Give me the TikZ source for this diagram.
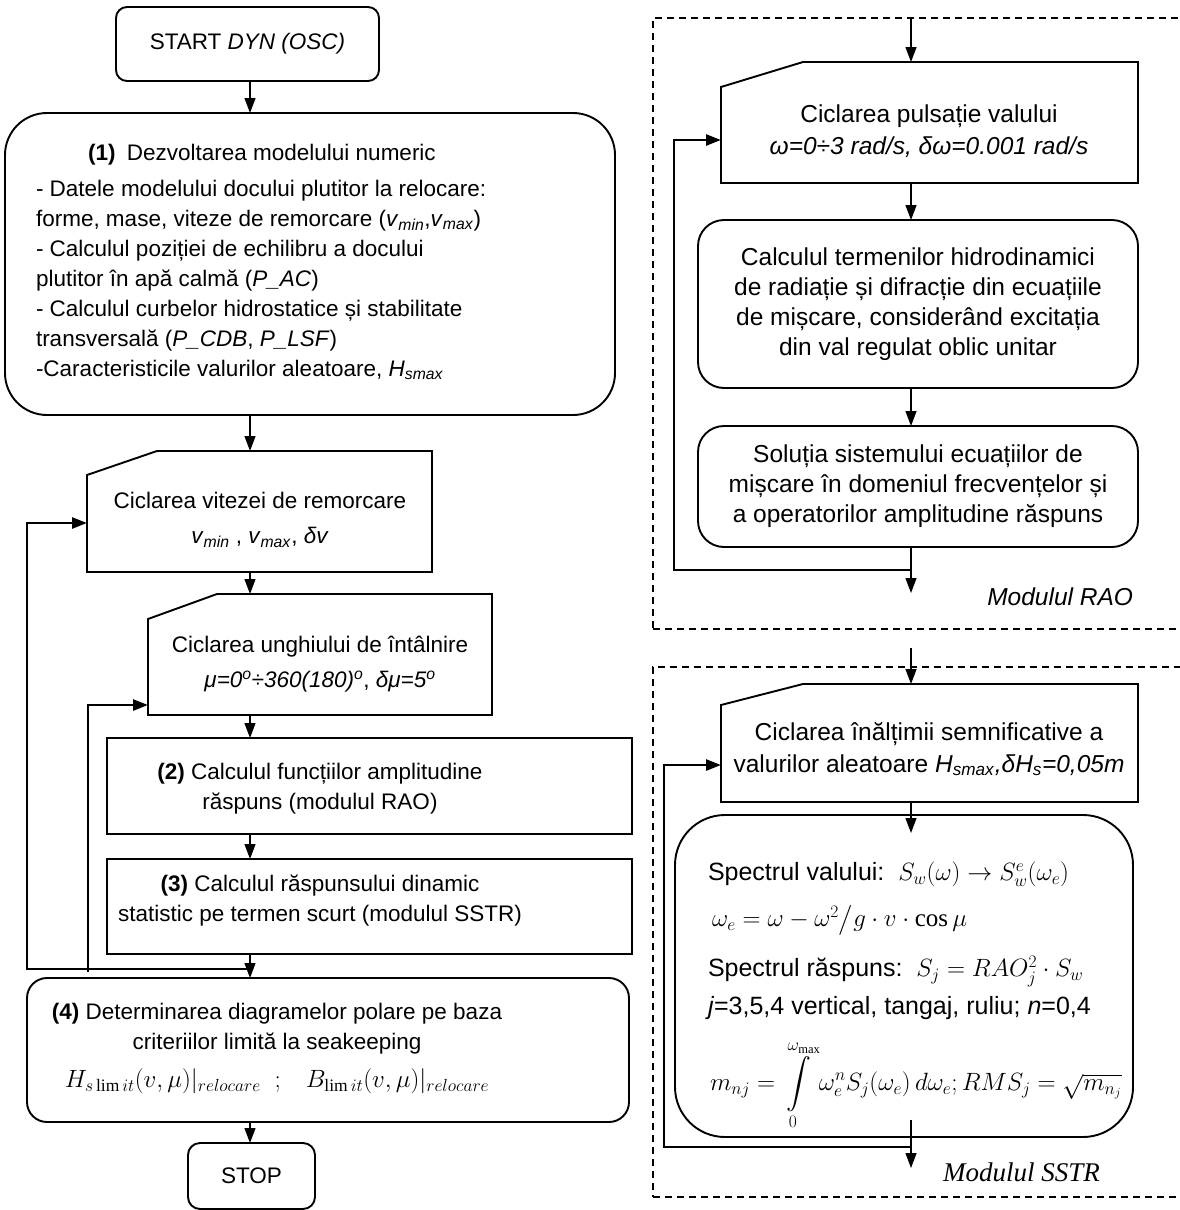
\RequirePackage{fix-cm}
\documentclass[tikz,border=0pt]{standalone}
\usepackage{amsmath}
\usepackage{fontspec}
\setmainfont{Liberation Sans}
\setmathrm{Liberation Serif}
\newfontfamily\serifit{Liberation Serif}
\usetikzlibrary{arrows.meta,calc}
\begin{document}
\begin{tikzpicture}[x=1pt,y=-1pt,
  every node/.style={inner sep=0pt,outer sep=0pt},
  fl/.style={font=\fontsize{22.5}{30}\selectfont,align=center},
  fr/.style={font=\fontsize{24.5}{30}\selectfont,align=center},
  fs/.style={font=\fontsize{25}{30}\selectfont,align=left,anchor=north west},
  frame/.style={draw,line width=1.9pt,anchor=north west},
  cyc/.style={anchor=north west},
  cycline/.style={draw,line width=1.9pt,line join=miter},
  dframe/.style={draw,line width=1.5pt,dash pattern=on 7pt off 5pt,anchor=north west},
  arr/.style={line width=1.3pt,-{Triangle[length=15pt,width=11pt]}},
  back/.style={line width=2.6pt,-{Triangle[length=15pt,width=11pt]}},
]
\useasboundingbox (0,0) rectangle (1180,1210);
\fill[white] (0,0) rectangle (1180,1210);

% ---------------- left column ----------------
\node[frame,rounded corners=11pt,minimum width=263pt,minimum height=74pt,fl] (start) at (116,7) {START \textit{DYN (OSC)}};

\node[frame,rounded corners=42pt,minimum width=610pt,minimum height=302pt] (b1) at (5,113) {};
\node[fl] (b1h) at (262,155) {\textbf{(1)}\enspace Dezvoltarea modelului numeric};
\node[fl,align=left,anchor=west] (b1t) at (36,280) {- Datele modelului docului plutitor la relocare:\\
forme, mase, viteze de remorcare (\textit{v}\textsubscript{\textit{min}},\textit{v}\textsubscript{\textit{max}})\\
- Calculul poziției de echilibru a docului\\
plutitor în apă calmă (\textit{P\_AC})\\
- Calculul curbelor hidrostatice și stabilitate\\
transversală (\textit{P\_CDB}, \textit{P\_LSF})\\
-Caracteristicile valurilor aleatoare, \textit{H}\textsubscript{\textit{smax}}};

\node[cyc,minimum width=345pt,minimum height=121pt] (L1) at (87,451) {};
\draw[cycline] (L1.south west) -- ($(L1.north west)+(0,24)$) -- ($(L1.north west)+(70,0)$) -- (L1.north east) -- (L1.south east) -- cycle;
\node[fl] (L1t) at (260,520) {Ciclarea vitezei de remorcare\\[5pt] \textit{v}\textsubscript{\textit{min}} , \textit{v}\textsubscript{\textit{max}}, \textit{δv}};

\node[cyc,minimum width=344pt,minimum height=121pt] (L2) at (148,594) {};
\draw[cycline] (L2.south west) -- ($(L2.north west)+(0,25)$) -- ($(L2.north west)+(69,0)$) -- (L2.north east) -- (L2.south east) -- cycle;
\node[fl] (L2t) at (320,664) {Ciclarea unghiului de întâlnire\\[5pt] \textit{μ=0\textsuperscript{o}÷360(180)\textsuperscript{o}}, \textit{δμ=5\textsuperscript{o}}};

\node[frame,minimum width=525pt,minimum height=96pt] (b2) at (107,738) {};
\node[fl] (b2t) at (320,789) {\textbf{(2)} Calculul funcțiilor amplitudine\\răspuns (modulul RAO)};

\node[frame,minimum width=525pt,minimum height=95pt] (b3) at (107,859) {};
\node[fl] (b3t) at (320,901) {\textbf{(3)} Calculul răspunsului dinamic\\statistic pe termen scurt (modulul SSTR)};

\node[frame,rounded corners=20pt,minimum width=602pt,minimum height=144pt] (b4) at (27,978) {};
\node[fl,anchor=north] (b4t) at (277,1003) {\textbf{(4)} Determinarea diagramelor polare pe baza\\criteriilor limită la seakeeping\\[8pt]
{\fontsize{25}{30}\selectfont$H_{s\,\mathrm{lim}\,it}(v,\mu)|_{relocare}\;\;;\;\;\;B_{\mathrm{lim}\,it}(v,\mu)|_{relocare}$}};

\node[frame,rounded corners=12pt,minimum width=127pt,minimum height=66pt,fl] (stop) at (188,1143) {STOP};

\coordinate (cl) at (250,0);
\draw[arr] (cl|-start.south) -- (cl|-b1.north);
\draw[arr] (cl|-b1.south) -- (cl|-L1.north);
\draw[arr] (cl|-L1.south) -- (cl|-L2.north);
\draw[arr] (cl|-L2.south) -- (cl|-b2.north);
\draw[arr] (cl|-b2.south) -- (cl|-b3.north);
\draw[arr] (cl|-b3.south) -- (cl|-b4.north);
\draw[arr] (cl|-b4.south) -- (cl|-stop.north);

\coordinate (j1) at (250,969);
\coordinate (c1) at (27,969);
\coordinate (c2) at (27,523);
\draw[back] (j1) -- (c1) -- (c2) -- (c2 -| L1.west);
\coordinate (d1) at (88,972);
\coordinate (d2) at (88,705);
\draw[back] (d1) -- (d2) -- (d2 -| L2.west);

% ---------------- RAO module ----------------
\node[dframe,minimum width=545pt,minimum height=611pt] (rao) at (653,18) {};
\coordinate (cr) at (911,0);

\node[cyc,minimum width=417pt,minimum height=121pt] (p1) at (721,62) {};
\draw[cycline] (p1.south west) -- ($(p1.north west)+(0,25)$) -- ($(p1.north west)+(82,0)$) -- (p1.north east) -- (p1.south east) -- cycle;
\node[fr] (p1t) at (929,131) {Ciclarea pulsație valului\\[2pt] \textit{ω=0÷3 rad/s, δω=0.001 rad/s}};

\node[frame,rounded corners=26pt,minimum width=440pt,minimum height=168pt,fr] (c1box) at (698,220) {Calculul termenilor hidrodinamici\\de radiație și difracție din ecuațiile\\de mișcare, considerând excitația\\din val regulat oblic unitar};

\node[frame,rounded corners=26pt,minimum width=440pt,minimum height=121pt,fr] (c2box) at (698,426) {Soluția sistemului ecuațiilor de\\mișcare în domeniul frecvențelor și\\a operatorilor amplitudine răspuns};

\draw[arr] (cr|-rao.north) -- (cr|-p1.north);
\draw[arr] (cr|-p1.south) -- (cr|-c1box.north);
\draw[arr] (cr|-c1box.south) -- (cr|-c2box.north);
\coordinate (raoout) at (911,593);
\draw[arr] (cr|-c2box.south) -- (raoout);
\coordinate (g1) at (911,570);
\coordinate (g2) at (674,570);
\coordinate (g3) at (674,140);
\draw[back] (g1) -- (g2) -- (g3) -- (g3 -| p1.west);
\node[font=\fontsize{24.5}{30}\selectfont\itshape,anchor=east] (raolabel) at (1133,597) {Modulul RAO};

% ---------------- SSTR module ----------------
\node[dframe,minimum width=545pt,minimum height=530pt] (sstr) at (653,667) {};
\coordinate (sin) at (911,648);

\node[cyc,minimum width=417pt,minimum height=118pt] (p2) at (721,684) {};
\draw[cycline] (p2.south west) -- ($(p2.north west)+(0,21)$) -- ($(p2.north west)+(82,0)$) -- (p2.north east) -- (p2.south east) -- cycle;
\draw[arr] (sin) -- (cr|-p2.north);
\node[fr] (p2t) at (929,749) {Ciclarea înălțimii semnificative a\\[2pt] valurilor aleatoare \textit{H}\textsubscript{\textit{smax}}\textit{,δH}\textsubscript{\textit{s}}\textit{=0,05m}};

\node[frame,rounded corners=50pt,minimum width=458pt,minimum height=322pt] (sbox) at (675,815) {};
\draw[arr] (cr|-p2.south) -- ($(cr|-sbox.north)+(0,18)$);

\node[fs] (stext) at (708,862) {Spectrul valului:\ \ $S_w(\omega)\rightarrow S_w^e(\omega_e)$\\[16pt]
\hspace*{4pt}$\omega_e=\omega-\omega^2\big/g\cdot v\cdot\cos\mu$\\[20pt]
Spectrul răspuns:\ \ $S_j=RAO_j^2\cdot S_w$\\[8pt]
\textit{j}=3,5,4 vertical, tangaj, ruliu; \textit{n}=0,4\\[20pt]
\hspace*{2pt}$m_{nj}=\displaystyle\int\limits_0^{\omega_{\max}}\omega_e^nS_j(\omega_e)\,d\omega_e;RMS_j=\sqrt{m_{n_j}}$};

\coordinate (sout) at (911,1168);
\draw[arr] ($(cr|-sbox.south)+(0,-17)$) -- (sout);
\coordinate (h1) at (911,1147);
\coordinate (h2) at (664,1147);
\coordinate (h3) at (664,765);
\draw[back] (h1) -- (h2) -- (h3) -- (h3 -| p2.west);
\node[font=\serifit\fontsize{27}{30}\selectfont\itshape,anchor=west] (sstrlabel) at (943,1172) {Modulul SSTR};
\end{tikzpicture}
\end{document}
